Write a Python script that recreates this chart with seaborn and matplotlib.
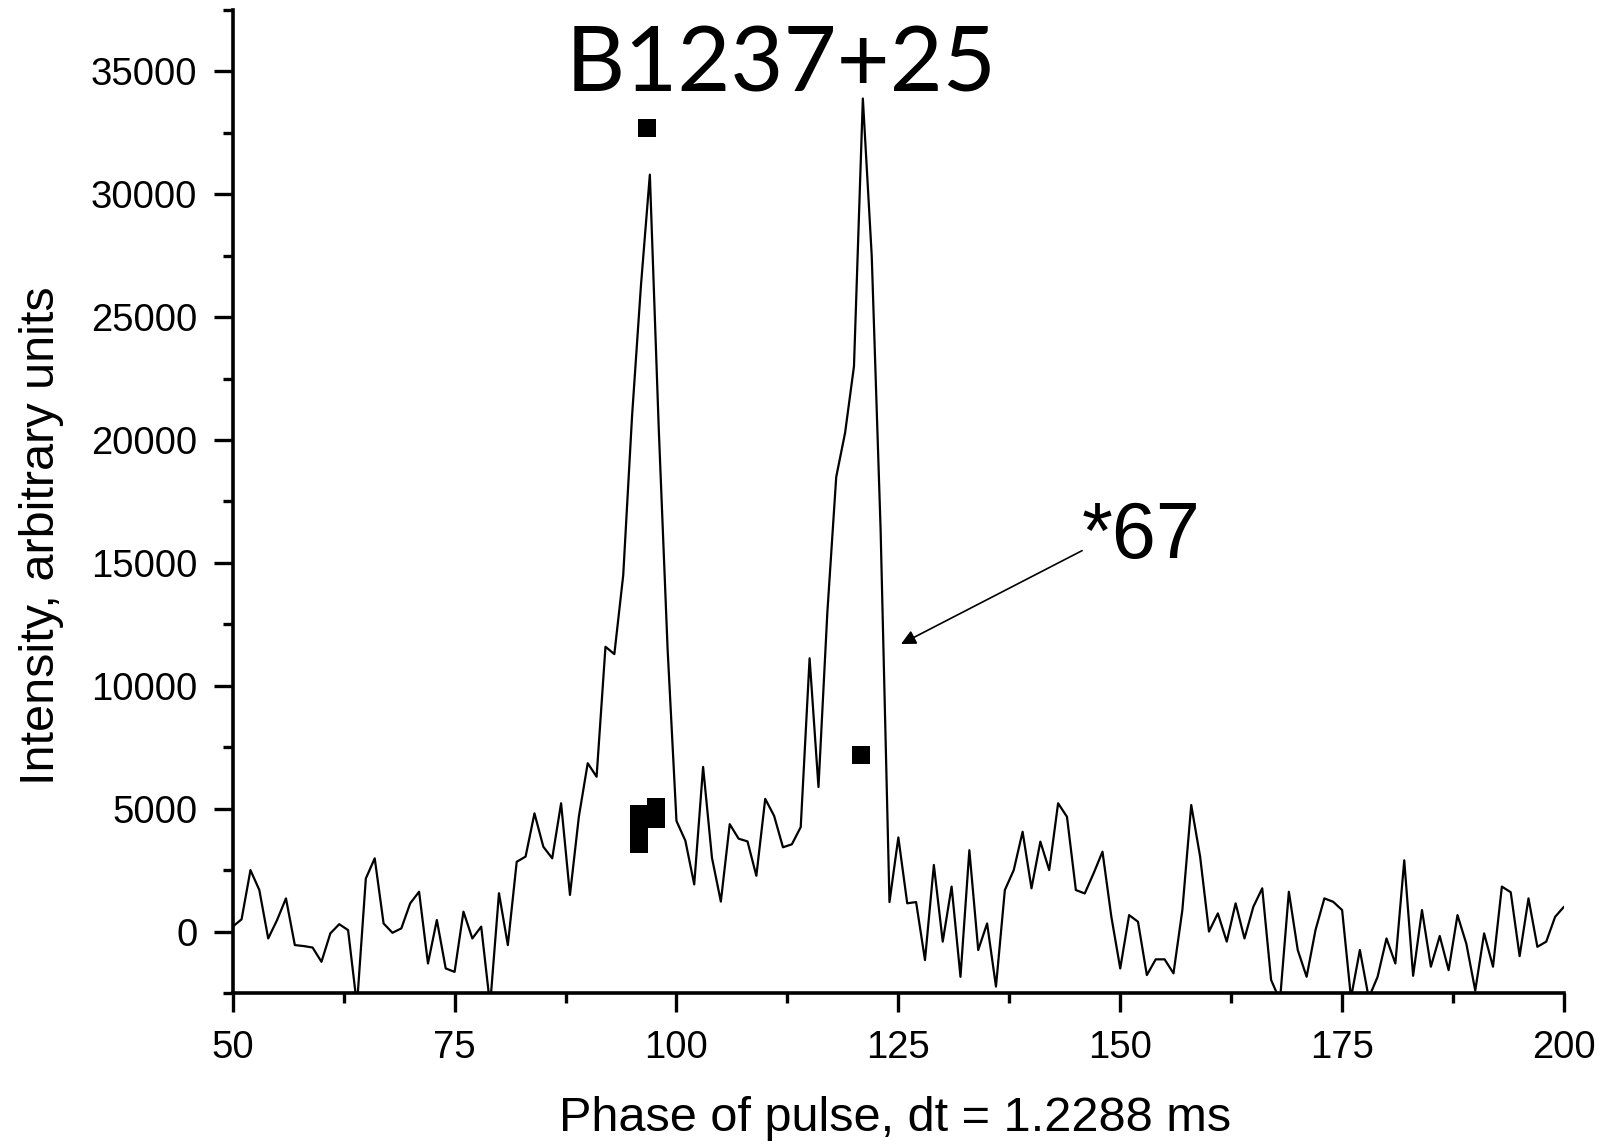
import numpy as np
import pandas as pd
import matplotlib
matplotlib.use("Agg")
import matplotlib.pyplot as plt
import seaborn as sns
from matplotlib.ticker import MultipleLocator

# ---- data ----
phase = list(range(50, 201))
intensity = [
    200, 500, 2500, 1690, -280, 470, 1350, -550, -590, -650,          # 50-59
    -1230, -75, 300, 60, -3000, 2160, 2980, 330, -50, 130,            # 60-69
    1150, 1620, -1300, 470, -1500, -1640, 810, -280, 200, -3000,      # 70-79
    1560, -550, 2840, 3050, 4810, 3450, 2980, 5220, 1490, 4670,       # 80-89
    6850, 6300, 11590, 11290, 14500, 21000, 26300, 30800, 20500, 11500,  # 90-99
    4500, 3700, 1920, 6700, 3000, 1220, 4370, 3780, 3670, 2270,       # 100-109
    5400, 4710, 3430, 3550, 4250, 11120, 5880, 12990, 18500, 20300,   # 110-119
    23000, 33900, 27500, 16360, 1200, 3830, 1150, 1200, -1160, 2710,  # 120-129
    -410, 1830, -1840, 3310, -750, 330, -2240, 1690, 2500, 4060,      # 130-139
    1760, 3660, 2500, 5220, 4670, 1690, 1550, 2370, 3250, 600,        # 140-149
    -1500, 670, 400, -1770, -1130, -1130, -1700, 875, 5150, 3050,     # 150-159
    0, 740, -410, 1150, -280, 1010, 1760, -1970, -2800, 1620,         # 160-169
    -750, -1840, 60, 1350, 1210, 875, -2700, -750, -2700, -1840,      # 170-179
    -280, -1300, 2900, -1800, 875, -1430, -180, -1570, 670, -500,     # 180-189
    -2400, -75, -1430, 1830, 1600, -1000, 1350, -620, -410, 600,      # 190-199
    1010,                                                             # 200
]

marker_x = [96.65, 95.81, 95.81, 95.81, 97.64, 97.64, 120.82]
marker_y = [32680, 4782, 4131, 3573, 5055, 4567, 7196]

title_text = "B1237+25"
x_label = "Phase of pulse, dt = 1.2288 ms"
y_label = "Intensity, arbitrary units"
note_text = "*67"
note_xy = (125.3, 11700)
note_text_xy = (145.7, 15500)

x_ticks = [50, 75, 100, 125, 150, 175, 200]
y_ticks = [0, 5000, 10000, 15000, 20000, 25000, 30000, 35000]

df_line = pd.DataFrame({"phase": phase, "intensity": intensity})
df_mark = pd.DataFrame({"phase": marker_x, "intensity": marker_y})

# ---- style ----
sns.set_theme(style="ticks")
plt.rcParams["font.family"] = ["Liberation Sans", "DejaVu Sans"]

fig = plt.figure(figsize=(16.12, 11.45), dpi=100)
ax = fig.add_axes([0.14436, 0.13275, 0.82586, 0.85852])

sns.lineplot(data=df_line, x="phase", y="intensity", ax=ax,
             color="black", linewidth=1.6, estimator=None, sort=False)
sns.scatterplot(data=df_mark, x="phase", y="intensity", ax=ax,
                marker="s", s=175, color="black", linewidth=0, zorder=3)

ax.set_xlim(50, 200)
ax.set_ylim(-2500, 37500)
ax.set_xticks(x_ticks)
ax.set_yticks(y_ticks)
ax.xaxis.set_minor_locator(MultipleLocator(12.5))
ax.yaxis.set_minor_locator(MultipleLocator(2500))

for side in ["top", "right"]:
    ax.spines[side].set_visible(False)
for side in ["left", "bottom"]:
    ax.spines[side].set_linewidth(2.6)
    ax.spines[side].set_color("black")

ax.tick_params(which="major", direction="out", length=13.5, width=2.4,
               color="black", labelsize=27.5, labelcolor="black")
ax.tick_params(axis="x", which="major", pad=13)
ax.tick_params(axis="y", which="major", pad=12)
ax.tick_params(which="minor", direction="out", length=7.2, width=2.4, color="black")

ax.set_xlabel(x_label, fontsize=35, color="black")
ax.set_ylabel(y_label, fontsize=35, color="black")
ax.xaxis.set_label_coords(0.4977, -0.105)
ax.yaxis.set_label_coords(-0.127, 0.465)

ax.annotate("", xy=note_xy, xytext=note_text_xy,
            arrowprops=dict(arrowstyle="-|>", color="black", lw=1.2,
                            mutation_scale=22, shrinkA=0, shrinkB=0))
ax.text(145.7, 15200, note_text, fontsize=57, ha="left", va="baseline",
        color="black")

fig.text(0.4848, 1 - 92 / 1145, title_text, fontsize=66, ha="center",
         va="baseline", color="black", family=["Lato", "DejaVu Sans"])

fig.savefig("out.png", dpi=100, facecolor="white")
